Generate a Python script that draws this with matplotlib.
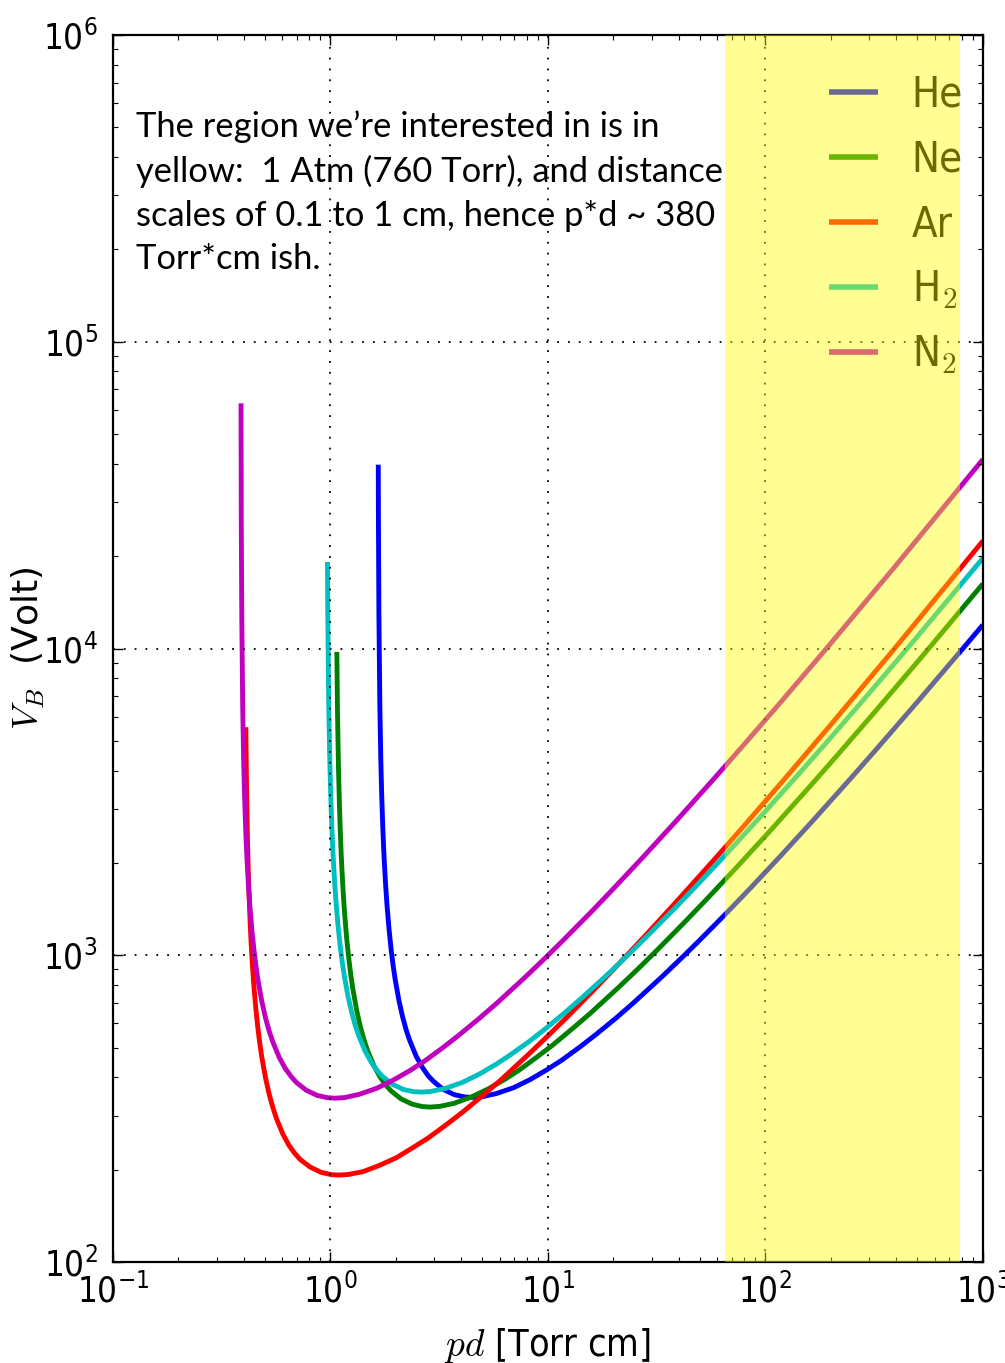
import matplotlib
matplotlib.use('Agg')
import matplotlib.pyplot as plt

# breakdown voltage (Paschen) curves
gases = ['He', 'Ne', 'Ar', 'H$_2$', 'N$_2$']
colors = ['b', 'g', 'r', 'c', 'm']

pd_he = [1.6593, 1.6623, 1.6705, 1.6871, 1.7036, 1.7202, 1.7367, 1.7532, 1.7698, 1.7946,
         1.8194, 1.8608, 1.9021, 1.9435, 1.9848, 2.0675, 2.150, 2.2329, 2.316, 2.481,
         2.646, 2.812, 2.977, 3.308, 3.7215, 4.135, 4.496, 4.962, 5.789, 6.947,
         8.27, 9.924, 11.58, 14.06, 16.54, 20.675, 24.81, 33.08, 41.35, 49.62,
         66.16, 82.7, 115.8, 165.4, 248.1, 330.8, 496.2, 827, 1000]
v_he = [39740, 25501, 12845, 6519, 4410, 3356, 2723, 2302, 2001, 1683,
        1461, 1209, 1041, 922, 833, 709, 627, 569, 527, 468,
        431, 405, 388, 365, 351, 345.3, 344, 345.6, 354, 370,
        393, 424, 455, 503, 550, 626, 701, 845, 983, 1116,
        1372, 1617, 2085, 2748, 3788, 4777, 6656, 10182, 11947]

pd_ne = [1.070, 1.0781, 1.0887, 1.0993, 1.1099, 1.1204, 1.1310, 1.1468, 1.1627, 1.1891,
         1.2156, 1.2420, 1.2684, 1.3213, 1.3741, 1.4270, 1.4798, 1.5855, 1.6912, 1.7969,
         1.9026, 2.114, 2.3783, 2.6425, 2.873, 3.171, 3.700, 4.439, 5.285, 6.342,
         7.399, 8.985, 10.57, 13.21, 15.86, 21.14, 26.43, 31.71, 42.28, 52.85,
         73.99, 105.7, 158.6, 211.4, 317.1, 528.5, 1000]
v_ne = [9748, 6064, 4102, 3122, 2533, 2142, 1862, 1566, 1359, 1124,
        969, 858, 775, 659, 583, 530, 490, 436, 401, 377,
        361, 340, 327, 321.2, 320, 321.5, 329, 345, 366, 394,
        423, 468, 511, 583, 652, 786, 914, 1038, 1277, 1505,
        1940, 2556, 3524, 4444, 6192, 9471, 16254]

pd_ar = [0.4082, 0.4111, 0.4151, 0.4191, 0.4232, 0.4272, 0.4312, 0.4373, 0.4433, 0.4534,
         0.4635, 0.4735, 0.4836, 0.5038, 0.5239, 0.5441, 0.5642, 0.6045, 0.6448, 0.6851,
         0.7254, 0.806, 0.9068, 1.0075, 1.0954, 1.209, 1.4105, 1.6926, 2.015, 2.418,
         2.821, 3.4255, 4.03, 5.0375, 6.045, 8.06, 10.075, 12.09, 16.12, 20.15,
         28.21, 40.3, 60.45, 80.6, 120.9, 201.5, 403, 1000]
v_ar = [5540, 3638, 2461, 1873, 1520, 1285, 1117, 939, 815, 675,
        581, 515, 465, 396, 350, 318, 294, 261, 240, 226,
        216, 204, 196, 192.7, 192, 192.9, 197, 207, 219, 237,
        254, 281, 307, 350, 391, 472, 549, 623, 766, 903,
        1164, 1534, 2114, 2666, 3715, 5683, 10225, 22424]

pd_h2 = [0.9690, 0.9719, 0.9815, 0.9912, 1.0008, 1.0104, 1.0200, 1.0297, 1.0441, 1.0585,
         1.0826, 1.1066, 1.1307, 1.1548, 1.2029, 1.2510, 1.2991, 1.3472, 1.4435, 1.5397,
         1.6359, 1.7321, 1.9246, 2.1652, 2.4058, 2.616, 2.8869, 3.368, 4.0417, 4.812,
         5.774, 6.736, 8.180, 9.623, 12.03, 14.43, 19.25, 24.06, 28.87, 38.49,
         48.12, 67.36, 96.23, 144.3, 192.5, 288.7, 481.2, 1000]
v_h2 = [19150, 13368, 6784, 4590, 3492, 2834, 2396, 2083, 1752, 1520,
        1258, 1084, 960, 867, 738, 653, 592, 548, 487, 448,
        422, 403, 380, 365, 359.3, 358, 359.6, 368, 385, 409,
        441, 474, 523, 572, 652, 730, 879, 1023, 1162, 1428,
        1683, 2170, 2860, 3943, 4972, 6927, 10596, 19703]

pd_n2 = [0.3880, 0.3891, 0.3911, 0.3949, 0.3988, 0.4027, 0.4066, 0.4104, 0.4143, 0.4201,
         0.4259, 0.4356, 0.4453, 0.4550, 0.4646, 0.4840, 0.5034, 0.5227, 0.5421, 0.5808,
         0.6195, 0.6582, 0.6970, 0.7744, 0.8712, 0.9680, 1.052, 1.1616, 1.355, 1.626,
         1.936, 2.323, 2.710, 3.291, 3.872, 4.840, 5.808, 7.744, 9.680, 11.62,
         15.49, 19.36, 27.10, 38.72, 58.08, 77.44, 116.2, 193.6, 387.2, 1000]
v_n2 = [63000, 25352, 12770, 6481, 4384, 3336, 2708, 2289, 1990, 1673,
        1452, 1202, 1035, 917, 828, 705, 623, 566, 524, 465,
        428, 403, 385, 363, 349, 343.3, 342, 343.6, 352, 368,
        391, 421, 452, 500, 547, 623, 697, 840, 977, 1110,
        1364, 1608, 2073, 2732, 3766, 4749, 6617, 10123, 18214, 41360]

pd_data = [pd_he, pd_ne, pd_ar, pd_h2, pd_n2]
v_data = [v_he, v_ne, v_ar, v_h2, v_n2]

yellow_lo, yellow_hi = 65, 785

note = ("The region we\u2019re interested in is in\n"
        "yellow:  1 Atm (760 Torr), and distance\n"
        "scales of 0.1 to 1 cm, hence p*d ~ 380\n"
        "Torr*cm ish.")

plt.rcParams['font.family'] = ['Noto Sans Condensed', 'Liberation Sans Narrow', 'DejaVu Sans']
plt.rcParams['font.stretch'] = 'condensed'
plt.rcParams['mathtext.fontset'] = 'cm'

fig = plt.figure(figsize=(10.05, 13.63), dpi=100)
ax = fig.add_axes([0.1124, 0.0741, 0.8656, 0.9002])

for pd_, v_, lbl, col in zip(pd_data, v_data, gases, colors):
    ax.plot(pd_, v_, color=col, lw=3.5, label=lbl, solid_capstyle='butt')

ax.set_xscale('log')
ax.set_yscale('log')
ax.set_xlim(0.1, 1000)
ax.set_ylim(100, 1e6)

ax.set_axisbelow(False)
ax.grid(True, which='major', color='k', ls=(0, (1, 5)), lw=1.3)
ax.tick_params(which='both', direction='in', top=True, right=True, labelsize=25)
ax.tick_params(which='major', length=7, width=1)
ax.tick_params(which='minor', length=3.5, width=0.8)
ax.tick_params(axis='x', pad=8)
ax.tick_params(axis='y', pad=11)
for sp in ax.spines.values():
    sp.set_linewidth(1.6)

ax.set_xlabel('$pd$ [Torr cm]', fontsize=27)
ax.xaxis.set_label_coords(0.5, -0.052)
ax.set_ylabel('$V_B$  (Volt)', fontsize=26, family='DejaVu Sans', stretch='normal')
ax.yaxis.set_label_coords(-0.076, 0.5)

leg = ax.legend(loc='upper right', bbox_to_anchor=(1.02, 0.999), frameon=False,
                fontsize=30, handlelength=1.17, handletextpad=0.8,
                labelspacing=0.55, borderaxespad=0.5)
for h in leg.get_lines():
    h.set_linewidth(4)

ax.axvspan(yellow_lo, yellow_hi, color='yellow', alpha=0.42, lw=0, zorder=10)

fig.text(136 / 1005, 1 - 110 / 1363, note, fontsize=24.8, family='Lato',
         stretch='normal', va='top', ha='left', linespacing=1.45)

fig.savefig('out.png', dpi=100)
